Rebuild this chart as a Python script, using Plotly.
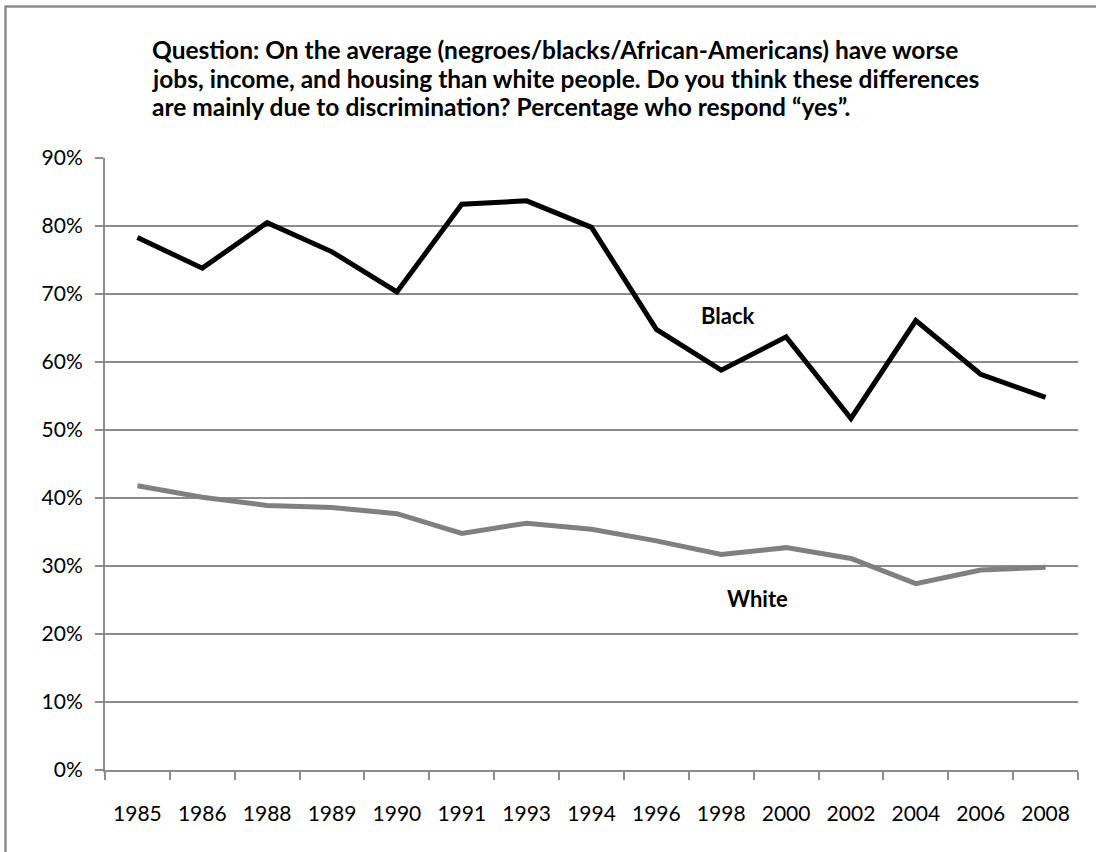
import plotly.graph_objects as go

years = ["1985", "1986", "1988", "1989", "1990", "1991", "1993", "1994",
         "1996", "1998", "2000", "2002", "2004", "2006", "2008"]
black = [0.783, 0.738, 0.805, 0.762, 0.703, 0.832, 0.837, 0.798,
         0.648, 0.588, 0.637, 0.517, 0.661, 0.582, 0.548]
white = [0.418, 0.401, 0.389, 0.386, 0.377, 0.348, 0.363, 0.354,
         0.337, 0.317, 0.327, 0.311, 0.274, 0.294, 0.298]
title_lines = [
    "Question: On the average (negroes/blacks/African-Americans) have worse",
    "jobs, income, and housing than white people. Do you think these differences",
    "are mainly due to discrimination? Percentage who respond \u201cyes\u201d.",
]

FONT = "Lato"
W, H = 1096, 852
L, R, T, B = 105, 1078, 158, 770
pw, ph = R - L, B - T

def px(x):
    return (x - L) / pw

def py(y):
    return (B - y) / ph

fig = go.Figure()
fig.add_trace(go.Scatter(x=years, y=white, mode="lines", name="White",
                         line=dict(color="#808080", width=5)))
fig.add_trace(go.Scatter(x=years, y=black, mode="lines", name="Black",
                         line=dict(color="#000000", width=5)))

annotations = []
for i, t in enumerate(title_lines):
    annotations.append(dict(text="<b>" + t + "</b>", xref="paper", yref="paper",
                            x=px(150), y=py(50 + 28 * i), xanchor="left", yanchor="middle",
                            showarrow=False, font=dict(family=FONT, size=24.5, color="#000")))
annotations.append(dict(text="<b>Black</b>", xref="paper", yref="paper",
                        x=px(728), y=py(315), xanchor="center", yanchor="middle",
                        showarrow=False, font=dict(family=FONT, size=22, color="#000")))
annotations.append(dict(text="<b>White</b>", xref="paper", yref="paper",
                        x=px(757), y=py(598), xanchor="center", yanchor="middle",
                        showarrow=False, font=dict(family=FONT, size=22, color="#000")))

fig.update_layout(
    width=W, height=H,
    margin=dict(l=L, r=W - R, t=T, b=H - B),
    paper_bgcolor="white", plot_bgcolor="white",
    showlegend=False,
    font=dict(family=FONT, size=21, color="#000"),
    annotations=annotations,
    shapes=[dict(type="rect", xref="paper", yref="paper",
                 x0=px(5.5), x1=px(1110), y0=py(870), y1=py(6.5),
                 line=dict(color="#8c8c8c", width=2.5), layer="below")],
)
fig.update_xaxes(type="category", range=[-0.5, 14.5], showgrid=False,
                 showline=True, linecolor="#8c8c8c", linewidth=2,
                 ticks="outside", tickson="boundaries", ticklen=8, tickcolor="#8c8c8c",
                 tickwidth=2, ticklabelstandoff=24, tickfont=dict(size=21))
fig.update_yaxes(range=[0, 0.9], dtick=0.1, tickformat=".0%", showgrid=True,
                 gridcolor="#8c8c8c", gridwidth=2, zeroline=False,
                 showline=True, linecolor="#8c8c8c", linewidth=2,
                 ticks="outside", ticklen=8, tickcolor="#8c8c8c", tickwidth=2,
                 ticklabelstandoff=8, tickfont=dict(size=21))

fig.write_html("out.html")
